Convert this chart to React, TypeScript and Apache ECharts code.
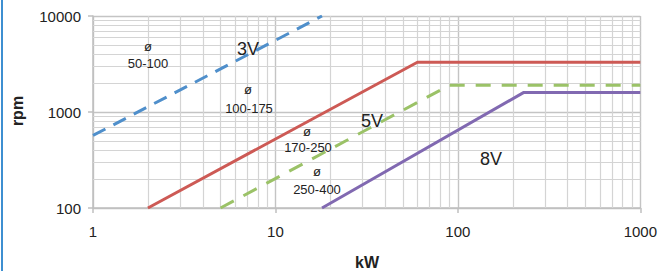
import React, { useEffect, useRef } from "react";
import * as echarts from "echarts";

// kW values at the ends / knees of each curve, rpm values alongside
const kw3V = [1, 18];
const rpm3V = [570, 10000];
const kwRed = [2, 60, 1000];
const rpmRed = [100, 3300, 3300];
const kwGreen = [5, 90, 1000];
const rpmGreen = [100, 1900, 1900];
const kwPurple = [18, 230, 1000];
const rpmPurple = [100, 1600, 1600];

const xMinorGrid = [2, 3, 4, 5, 6, 7, 8, 9, 20, 30, 40, 50, 60, 70, 80, 90, 200, 300, 400, 500, 600, 700, 800, 900];
const yMinorGrid = [200, 300, 400, 500, 600, 700, 800, 900, 2000, 3000, 4000, 5000, 6000, 7000, 8000, 9000];

const FONT = "'Liberation Sans', Arial, Helvetica, sans-serif";
const TXT = "#222";

function pairs(xs: number[], ys: number[]) {
  return xs.map((x, i) => [x, ys[i]]);
}

function txt(text: string, x: number, y: number, size: number, extra: any = {}) {
  return {
    type: "text",
    x,
    y,
    z: 10,
    ...extra,
    style: {
      text,
      fill: TXT,
      font: `${extra.bold ? "bold " : ""}${size}px ${FONT}`,
      align: "center",
      verticalAlign: "middle",
      textAlign: "center",
      textVerticalAlign: "middle",
    },
  };
}

export default function App() {
  const ref = useRef<HTMLDivElement>(null);
  useEffect(() => {
    if (!ref.current) return;
    const chart = echarts.init(ref.current, undefined, { renderer: "svg" });
    const gridLine = { color: "#d4d4d4", width: 1.2, type: "solid" };
    const fmt = (v: number) => String(Math.round(v));
    chart.setOption({
      animation: false,
      backgroundColor: "#fff",
      grid: { left: 93, right: 18, top: 16, bottom: 63 },
      xAxis: {
        type: "log",
        logBase: 10,
        min: 1,
        max: 1000,
        axisLine: { show: true, lineStyle: { color: "#bfbfbf", width: 1.5 } },
        axisTick: { show: true, length: 5, lineStyle: { color: "#bfbfbf", width: 1.5 } },
        splitLine: { show: true, lineStyle: { color: "#c4c4c4", width: 1.4 } },
        axisLabel: { color: TXT, fontFamily: FONT, fontSize: 15, margin: 16, formatter: fmt },
      },
      yAxis: {
        type: "log",
        logBase: 10,
        min: 100,
        max: 10000,
        axisLine: { show: true, lineStyle: { color: "#bfbfbf", width: 1.5 } },
        axisTick: { show: true, length: 5, lineStyle: { color: "#bfbfbf", width: 1.5 } },
        splitLine: { show: true, lineStyle: { color: "#c4c4c4", width: 1.4 } },
        axisLabel: { color: TXT, fontFamily: FONT, fontSize: 15, margin: 12, formatter: fmt },
      },
      series: [
        {
          type: "line",
          z: 1,
          data: [],
          symbol: "none",
          silent: true,
          markLine: {
            z: 1,
            silent: true,
            symbol: "none",
            label: { show: false },
            lineStyle: gridLine,
            data: [
              ...xMinorGrid.map((v) => ({ xAxis: v })),
              ...yMinorGrid.map((v) => ({ yAxis: v })),
            ],
          },
        },
        {
          name: "3V",
          type: "line",
          z: 6,
          data: pairs(kw3V, rpm3V),
          symbol: "none",
          lineStyle: { color: "#4f8fcb", width: 3, type: [14, 9] },
        },
        {
          name: "red",
          type: "line",
          z: 6,
          data: pairs(kwRed, rpmRed),
          symbol: "none",
          lineStyle: { color: "#cd5a55", width: 3 },
        },
        {
          name: "green",
          type: "line",
          z: 6,
          data: pairs(kwGreen, rpmGreen),
          symbol: "none",
          lineStyle: { color: "#9bc267", width: 3, type: [15, 11] },
        },
        {
          name: "purple",
          type: "line",
          z: 6,
          data: pairs(kwPurple, rpmPurple),
          symbol: "none",
          lineStyle: { color: "#8169b1", width: 3 },
        },
      ],
      graphic: [
        { type: "rect", shape: { x: 1, y: 0, width: 2, height: 271 }, style: { fill: "#3d8fd1" } },
        txt("ø", 148, 46, 13),
        txt("50-100", 148, 63, 13),
        txt("3V", 248, 49, 18),
        txt("ø", 248, 89, 13),
        txt("100-175", 249, 108, 13),
        txt("ø", 307, 131, 13),
        txt("170-250", 308, 147, 13),
        txt("5V", 372, 121, 18),
        txt("ø", 317, 171, 13),
        txt("250-400", 317, 189, 13),
        txt("8V", 491, 159, 18),
        txt("rpm", 17, 111, 16, { bold: true, rotation: Math.PI / 2 }),
        txt("kW", 367, 262, 16, { bold: true }),
      ],
    });
    return () => chart.dispose();
  }, []);
  return (
    <div
      ref={ref}
      style={{ position: "fixed", left: 0, top: 0, width: 660, height: 271, background: "#fff" }}
    />
  );
}
